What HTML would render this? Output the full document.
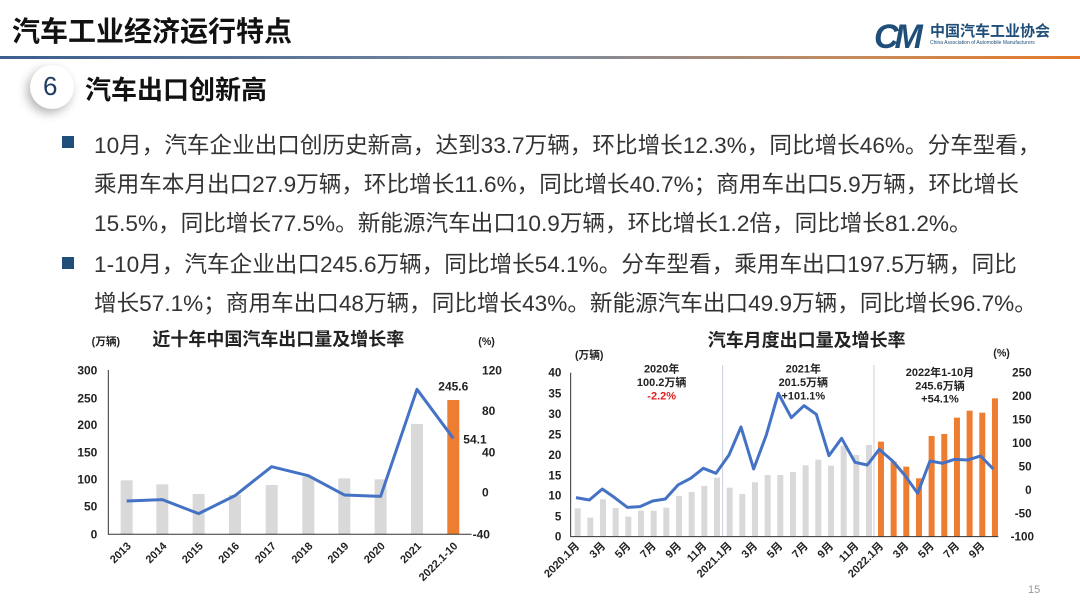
<!DOCTYPE html>
<html><head><meta charset="utf-8"><style>
body{margin:0;width:1080px;height:604px;background:#fff;overflow:hidden;position:relative;font-family:"Liberation Sans","Noto Sans CJK SC",sans-serif}
.t{position:absolute;white-space:nowrap}
</style></head><body>
<div class="t" style="left:12px;top:10px;font-size:28px;font-weight:bold;color:#111">汽车工业经济运行特点</div>
<div style="position:absolute;left:0;top:56px;width:1080px;height:3px;background:linear-gradient(90deg,#3d5f8f 0%,#7a8aa0 50%,#c88a5a 80%,#e47a2a 100%)"></div>
<div class="t" style="left:874px;top:18px;font-size:34px;font-weight:bold;font-style:italic;color:#1f4e79;letter-spacing:-4px">CM</div>
<div class="t" style="left:930px;top:20px;font-size:15px;font-weight:bold;color:#1f4e79">中国汽车工业协会</div>
<div class="t" style="left:930px;top:40px;font-size:5px;color:#1f4e79">China Association of Automobile Manufacturers</div>
<div style="position:absolute;left:30px;top:65px;width:44px;height:44px;border-radius:50%;background:#fff;box-shadow:-3px 4px 10px rgba(0,0,0,.3)"></div>
<div class="t" style="left:43px;top:71px;font-size:26px;color:#1f3b60">6</div>
<div class="t" style="left:85px;top:70px;font-size:26px;font-weight:bold;color:#111">汽车出口创新高</div>
<div style="position:absolute;left:62px;top:136px;width:12px;height:12px;background:#1f4e79"></div>
<div style="position:absolute;left:62px;top:257px;width:12px;height:12px;background:#1f4e79"></div>
<div class="t" style="left:94px;top:126px;font-size:22.6px;color:#333;line-height:39px">10月，汽车企业出口创历史新高，达到33.7万辆，环比增长12.3%，同比增长46%。分车型看，<br>乘用车本月出口27.9万辆，环比增长11.6%，同比增长40.7%；商用车出口5.9万辆，环比增长<br>15.5%，同比增长77.5%。新能源汽车出口10.9万辆，环比增长1.2倍，同比增长81.2%。</div>
<div class="t" style="left:94px;top:245px;font-size:22.6px;color:#333;line-height:39px">1-10月，汽车企业出口245.6万辆，同比增长54.1%。分车型看，乘用车出口197.5万辆，同比<br>增长57.1%；商用车出口48万辆，同比增长43%。新能源汽车出口49.9万辆，同比增长96.7%。</div>
<div class="t" style="left:1028px;top:584px;font-size:11px;color:#999">15</div>
<svg width="1080" height="604" style="position:absolute;left:0;top:0" font-family="Liberation Sans,Noto Sans CJK SC,sans-serif">
<g transform="translate(60 325) scale(0.3333)" font-weight="bold" fill="#222">
<text x="655" y="62" font-size="54" text-anchor="middle">近十年中国汽车出口量及增长率</text>
<text x="95" y="60" font-size="32">(万辆)</text>
<text x="1255" y="60" font-size="32">(%)</text>
<g fill="#d9d9d9">
<rect x="182" y="466" width="36" height="162"/><rect x="289" y="478" width="36" height="150"/><rect x="398" y="507" width="36" height="121"/><rect x="507" y="510" width="36" height="118"/><rect x="617" y="480" width="36" height="148"/><rect x="727" y="455" width="36" height="173"/><rect x="835" y="460" width="36" height="168"/><rect x="944" y="463" width="36" height="165"/><rect x="1053" y="297" width="36" height="331"/></g>
<rect x="1162" y="225" width="36" height="403" fill="#ed7d31"/>
<path d="M145 135V628H1235" fill="none" stroke="#333" stroke-width="3"/>
<polyline points="200,528 307,524 416,566 525,512 635,425 745,452 853,510 962,514 1071,193 1180,340" fill="none" stroke="#4472c4" stroke-width="9" stroke-linejoin="round"/>
<g font-size="36" text-anchor="end"><text x="112" y="149">300</text><text x="112" y="232">250</text><text x="112" y="312">200</text><text x="112" y="395">150</text><text x="112" y="475">100</text><text x="112" y="557">50</text><text x="112" y="640">0</text></g>
<g font-size="36"><text x="1266" y="149">120</text><text x="1266" y="270">80</text><text x="1266" y="394">40</text><text x="1266" y="515">0</text><text x="1238" y="640">-40</text></g>
<text x="1180" y="196" font-size="36" text-anchor="middle">245.6</text>
<text x="1210" y="356" font-size="36">54.1</text>
<g font-size="33" text-anchor="end">
<text transform="translate(215 665) rotate(-45)">2013</text><text transform="translate(322 665) rotate(-45)">2014</text><text transform="translate(431 665) rotate(-45)">2015</text><text transform="translate(540 665) rotate(-45)">2016</text><text transform="translate(650 665) rotate(-45)">2017</text><text transform="translate(760 665) rotate(-45)">2018</text><text transform="translate(868 665) rotate(-45)">2019</text><text transform="translate(977 665) rotate(-45)">2020</text><text transform="translate(1086 665) rotate(-45)">2021</text><text transform="translate(1195 665) rotate(-45)">2022.1-10</text></g>
</g>
<g transform="translate(530 325) scale(0.3333)" font-weight="bold" fill="#222">
<text x="830" y="64" font-size="54" text-anchor="middle">汽车月度出口量及增长率</text>
<text x="135" y="100" font-size="32">(万辆)</text>
<text x="1390" y="95" font-size="32">(%)</text>
<path d="M578 120V635M1032 120V635" stroke="#c8d0dc" stroke-width="3"/>
<g fill="#d9d9d9">
<rect x="134" y="550" width="18" height="85"/><rect x="172" y="578" width="18" height="57"/><rect x="210" y="523" width="18" height="112"/><rect x="248" y="549" width="18" height="86"/><rect x="286" y="575" width="18" height="60"/><rect x="324" y="557" width="18" height="78"/><rect x="362" y="557" width="18" height="78"/><rect x="400" y="548" width="18" height="87"/><rect x="438" y="513" width="18" height="122"/><rect x="476" y="501" width="18" height="134"/><rect x="514" y="483" width="18" height="152"/><rect x="552" y="458" width="18" height="177"/>
<rect x="590" y="488" width="18" height="147"/><rect x="628" y="507" width="18" height="128"/><rect x="666" y="472" width="18" height="163"/><rect x="704" y="450" width="18" height="185"/><rect x="742" y="450" width="18" height="185"/><rect x="780" y="441" width="18" height="194"/><rect x="818" y="421" width="18" height="214"/><rect x="856" y="404" width="18" height="231"/><rect x="894" y="422" width="18" height="213"/><rect x="932" y="362" width="18" height="273"/><rect x="970" y="390" width="18" height="245"/><rect x="1008" y="360" width="18" height="275"/></g>
<g fill="#ed7d31">
<rect x="1044" y="350" width="18" height="285"/><rect x="1082" y="410" width="18" height="225"/><rect x="1120" y="425" width="18" height="210"/><rect x="1158" y="460" width="18" height="175"/><rect x="1196" y="333" width="18" height="302"/><rect x="1234" y="327" width="18" height="308"/><rect x="1272" y="278" width="18" height="357"/><rect x="1310" y="257" width="18" height="378"/><rect x="1348" y="263" width="18" height="372"/><rect x="1386" y="220" width="18" height="415"/></g>
<path d="M122 143V635H1405" fill="none" stroke="#333" stroke-width="3"/>
<polyline points="138,518 178,525 217,492 254,518 292,547 330,545 368,528 406,522 444,480 482,460 520,430 558,445 597,390 633,306 671,432 709,330 745,205 784,278 822,242 859,268 897,392 935,340 975,412 1012,420 1048,373 1088,408 1124,450 1163,505 1200,408 1238,415 1274,403 1314,405 1352,393 1390,432" fill="none" stroke="#4472c4" stroke-width="9" stroke-linejoin="round"/>
<g font-size="35" text-anchor="end"><text x="94" y="155">40</text><text x="94" y="217">35</text><text x="94" y="279">30</text><text x="94" y="340">25</text><text x="94" y="402">20</text><text x="94" y="463">15</text><text x="94" y="524">10</text><text x="94" y="586">5</text><text x="94" y="647">0</text></g>
<g font-size="35" text-anchor="end"><text x="1505" y="155">250</text><text x="1505" y="225">200</text><text x="1505" y="296">150</text><text x="1505" y="366">100</text><text x="1505" y="437">50</text><text x="1505" y="507">0</text><text x="1505" y="577">-50</text><text x="1512" y="647">-100</text></g>
<g font-size="33" text-anchor="middle"><text x="395" y="143">2020年</text><text x="395" y="183">100.2万辆</text><text x="395" y="223" fill="#e02020">-2.2%</text>
<text x="820" y="143">2021年</text><text x="820" y="183">201.5万辆</text><text x="820" y="223">+101.1%</text>
<text x="1230" y="153">2022年1-10月</text><text x="1230" y="193">245.6万辆</text><text x="1230" y="233">+54.1%</text></g>
<g font-size="33" text-anchor="end">
<text transform="translate(150 665) rotate(-45)">2020.1月</text><text transform="translate(228 665) rotate(-45)">3月</text><text transform="translate(304 665) rotate(-45)">5月</text><text transform="translate(380 665) rotate(-45)">7月</text><text transform="translate(456 665) rotate(-45)">9月</text><text transform="translate(532 665) rotate(-45)">11月</text><text transform="translate(608 665) rotate(-45)">2021.1月</text><text transform="translate(684 665) rotate(-45)">3月</text><text transform="translate(760 665) rotate(-45)">5月</text><text transform="translate(836 665) rotate(-45)">7月</text><text transform="translate(912 665) rotate(-45)">9月</text><text transform="translate(988 665) rotate(-45)">11月</text><text transform="translate(1062 665) rotate(-45)">2022.1月</text><text transform="translate(1138 665) rotate(-45)">3月</text><text transform="translate(1214 665) rotate(-45)">5月</text><text transform="translate(1290 665) rotate(-45)">7月</text><text transform="translate(1366 665) rotate(-45)">9月</text></g>
</g>
</svg>
</body></html>
